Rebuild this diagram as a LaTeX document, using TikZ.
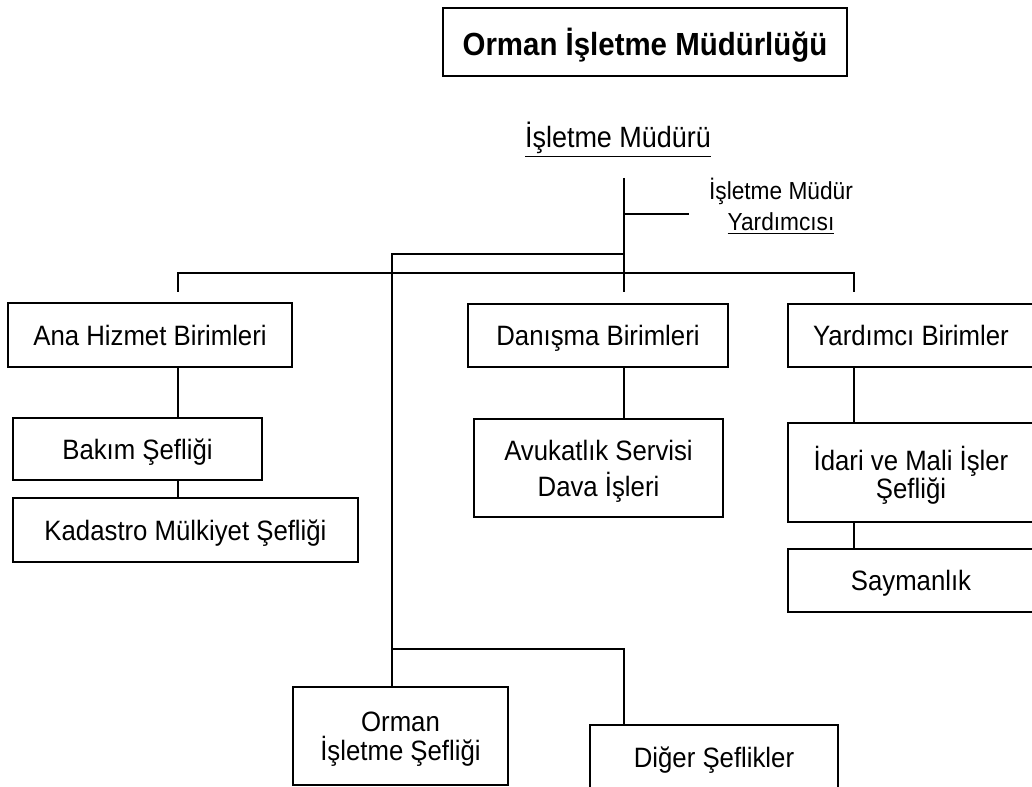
\documentclass[tikz,border=0pt]{standalone}
\usepackage{fontspec}
\setmainfont{Liberation Sans}[FakeStretch=0.92]
\usetikzlibrary{calc}

\begin{document}
\begin{tikzpicture}[x=0.75pt,y=0.75pt,yscale=-1,xscale=1,
	kutu/.style={draw,line width=1.3pt,inner sep=0.75pt,align=center,text depth=0pt,font=\fontsize{21}{21.5}\selectfont},
	hat/.style={line width=1.3pt}]
	\useasboundingbox (0,0) rectangle (1032,787);
	
	%Shape: Rectangle [title]
	\node [draw,line width=2.2pt,minimum width=303pt,minimum height=51pt,text depth=0pt,font=\bfseries\fontsize{24}{26}\selectfont] (baslik) at (645,42) {Orman İşletme Müdürlüğü};
	
	% Text Node
	\node [anchor=base,inner sep=0.75pt,font=\fontsize{22}{24}\selectfont] (mudur) at (618,148) {\underline{İşletme Müdürü}};
	% Text Node
	\node [align=center,inner sep=0.75pt,font=\fontsize{18.5}{23.25}\selectfont] (yardimci) at (781,206) {İşletme Müdür\\\underline{Yardımcısı}};
	
	%Shape: Rectangle [row 1]
	\node [kutu,minimum width=213pt,minimum height=48pt] (ana) at (150,335) {Ana Hizmet Birimleri};
	\node [kutu,minimum width=195pt,minimum height=47.25pt] (danisma) at (598,335.5) {Danışma Birimleri};
	\node [kutu,minimum width=184.5pt,minimum height=47.25pt] (yard) at (911,335.5) {Yardımcı Birimler};
	
	%Shape: Rectangle [row 2]
	\node [kutu,minimum width=186.75pt,minimum height=46.5pt] (bakim) at (137.5,449) {Bakım Şefliği};
	\node [kutu,minimum width=258.75pt,minimum height=48pt] (kadastro) at (185.5,530) {Kadastro Mülkiyet Şefliği};
	\node [kutu,minimum width=186.75pt,minimum height=73.5pt] (avukat) at (598.5,468) {Avukatlık Servisi\\[5.5pt]Dava İşleri};
	\node [kutu,minimum width=184.5pt,minimum height=74.25pt] (idari) at (911,472.5) {İdari ve Mali İşler\\Şefliği};
	\node [kutu,minimum width=184.5pt,minimum height=47.25pt] (sayman) at (911,580.5) {Saymanlık};
	
	%Shape: Rectangle [bottom]
	\node [kutu,minimum width=161.25pt,minimum height=73.5pt] (orman) at (400.5,736) {Orman\\İşletme Şefliği};
	\node [kutu,minimum width=186pt,minimum height=48.75pt] (diger) at (714,757.5) {Diğer Şeflikler};
	
	% Coordinates
	\coordinate (ust) at (624,178);
	\coordinate (kol) at (689,214);
	\coordinate (sol) at (392,254);
	\coordinate (bus) at (624,273);
	\coordinate (anaUc) at (178,292);
	\coordinate (danUc) at (624,292);
	\coordinate (yarUc) at (854,292);
	\coordinate (ayrim) at (392,649);
	
	%Straight Lines
	\draw [hat] (ust) -- (danUc);
	\draw [hat] (ust |- kol) -- (kol);
	\draw [hat] (anaUc) |- (yarUc |- bus) -- (yarUc);
	\draw [hat] (ust |- sol) -- (sol) -- (orman.north -| sol);
	\draw [hat] (ayrim) -| (diger.north -| danUc);
	\draw [hat] (ana.south -| anaUc) -- (bakim.north -| anaUc);
	\draw [hat] (bakim.south -| anaUc) -- (kadastro.north -| anaUc);
	\draw [hat] (danisma.south -| danUc) -- (avukat.north -| danUc);
	\draw [hat] (yard.south -| yarUc) -- (idari.north -| yarUc);
	\draw [hat] (idari.south -| yarUc) -- (sayman.north -| yarUc);
	
\end{tikzpicture}
\end{document}
